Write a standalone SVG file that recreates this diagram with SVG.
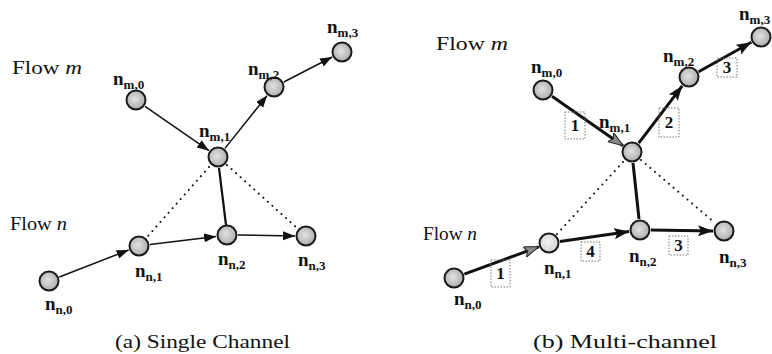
<svg xmlns="http://www.w3.org/2000/svg" width="772" height="354" viewBox="0 0 772 354">
<defs>
<radialGradient id="g" cx="0.45" cy="0.45" r="0.6">
<stop offset="0" stop-color="#e2e2e2"/>
<stop offset="1" stop-color="#a9a9a9"/>
</radialGradient>
<radialGradient id="gl" cx="0.45" cy="0.45" r="0.6">
<stop offset="0" stop-color="#f4f4f4"/>
<stop offset="1" stop-color="#cfcfcf"/>
</radialGradient>
<marker id="a" markerUnits="userSpaceOnUse" markerWidth="13" markerHeight="10" refX="12" refY="4.5" orient="auto">
<path d="M0,0 L12,4.5 L0,9 Z" fill="#111"/>
</marker>
<marker id="b" markerUnits="userSpaceOnUse" markerWidth="16" markerHeight="12" refX="15" refY="5.5" orient="auto">
<path d="M0,0 L15,5.5 L0,11 L3,5.5 Z" fill="#111"/>
</marker>
<marker id="bh" markerUnits="userSpaceOnUse" markerWidth="16" markerHeight="12" refX="15" refY="5.5" orient="auto">
<path d="M0,0 L15,5.5 L0,11 L3,5.5 Z" fill="#8a8a8a" stroke="#222" stroke-width="1"/>
</marker>
</defs>
<style>
.nd{fill:url(#g);stroke:#1a1a1a;stroke-width:2}
.ndl{fill:url(#gl);stroke:#1a1a1a;stroke-width:2}
.lb{font-family:"Liberation Serif",serif;font-weight:bold;font-size:19px;fill:#111}
.sb{font-size:13px}
.fl{font-family:"Liberation Serif",serif;font-size:18px;fill:#111}
.cap{font-family:"Liberation Serif",serif;font-size:18px;fill:#111}
.th{stroke:#111;stroke-width:1.5;fill:none}
.tk{stroke:#111;stroke-width:3;fill:none}
.sl{stroke:#111;stroke-width:2.2;fill:none}
.slk{stroke:#111;stroke-width:3;fill:none}
.dt{stroke:#111;stroke-width:2;fill:none;stroke-dasharray:0.1 6;stroke-linecap:round}
.bx{fill:none;stroke:#777;stroke-width:1;stroke-dasharray:1.5 1.5}
.num{font-family:"Liberation Serif",serif;font-weight:bold;font-size:17px;fill:#111;text-anchor:middle}
</style>

<!-- Panel (a) -->
<text class="fl" x="12" y="74" textLength="70" lengthAdjust="spacingAndGlyphs">Flow <tspan font-style="italic">m</tspan></text>
<text class="fl" x="10" y="230" textLength="57" lengthAdjust="spacingAndGlyphs">Flow <tspan font-style="italic">n</tspan></text>
<text class="cap" x="115" y="348" textLength="175" lengthAdjust="spacingAndGlyphs">(a)  Single  Channel</text>

<g id="conn-a">
<line class="th" x1="145" y1="106.3" x2="209" y2="150.7" marker-end="url(#a)"/>
<line class="th" x1="224.9" y1="148.4" x2="267.1" y2="95.6" marker-end="url(#a)"/>
<line class="th" x1="283.8" y1="82" x2="332.2" y2="57" marker-end="url(#a)"/>
<line class="th" x1="59.3" y1="277" x2="128.7" y2="250" marker-end="url(#a)"/>
<line class="th" x1="149.9" y1="244.6" x2="216.1" y2="236.4" marker-end="url(#a)"/>
<line class="th" x1="238" y1="235.1" x2="295" y2="235.9" marker-end="url(#a)"/>
<line class="sl" x1="219" y1="168" x2="226" y2="225"/>
<line class="dt" x1="209" y1="167" x2="148" y2="236"/>
<line class="dt" x1="227" y1="165" x2="297" y2="228"/>
</g>

<g id="a-m0"><circle class="nd" cx="136" cy="100" r="9.5"/><text class="lb" x="113" y="85">n<tspan class="sb" dy="4">m,0</tspan></text></g>
<g id="a-m1"><circle class="nd" cx="218" cy="157" r="9.5"/><text class="lb" x="199" y="137">n<tspan class="sb" dy="4">m,1</tspan></text></g>
<g id="a-m2"><circle class="nd" cx="274" cy="87" r="9.5"/><text class="lb" x="248" y="75">n<tspan class="sb" dy="4">m,2</tspan></text></g>
<g id="a-m3"><circle class="nd" cx="342" cy="52" r="9.5"/><text class="lb" x="327" y="33">n<tspan class="sb" dy="4">m,3</tspan></text></g>
<g id="a-n0"><circle class="nd" cx="49" cy="281" r="9.5"/><text class="lb" x="45" y="310">n<tspan class="sb" dy="4">n,0</tspan></text></g>
<g id="a-n1"><circle class="nd" cx="139" cy="246" r="9.5"/><text class="lb" x="135" y="277">n<tspan class="sb" dy="4">n,1</tspan></text></g>
<g id="a-n2"><circle class="nd" cx="227" cy="235" r="9.5"/><text class="lb" x="218" y="265">n<tspan class="sb" dy="4">n,2</tspan></text></g>
<g id="a-n3"><circle class="nd" cx="306" cy="236" r="9.5"/><text class="lb" x="298" y="266">n<tspan class="sb" dy="4">n,3</tspan></text></g>

<!-- Panel (b) -->
<text class="fl" x="436" y="50" textLength="72" lengthAdjust="spacingAndGlyphs">Flow <tspan font-style="italic">m</tspan></text>
<text class="fl" x="423" y="240" textLength="54" lengthAdjust="spacingAndGlyphs">Flow <tspan font-style="italic">n</tspan></text>
<text class="cap" x="533" y="348" textLength="184" lengthAdjust="spacingAndGlyphs">(b)  Multi-channel</text>

<g id="conn-b">
<line class="tk" x1="552" y1="96.3" x2="623" y2="145.7" marker-end="url(#bh)"/>
<line class="tk" x1="638.7" y1="143.2" x2="682.3" y2="85.8" marker-end="url(#b)"/>
<line class="tk" x1="698.6" y1="71.7" x2="751.4" y2="42.3" marker-end="url(#b)"/>
<line class="tk" x1="464.3" y1="274.2" x2="538.7" y2="246.8" marker-end="url(#bh)"/>
<line class="tk" x1="559.9" y1="241.4" x2="629.1" y2="231.6" marker-end="url(#b)"/>
<line class="tk" x1="651" y1="230.1" x2="713" y2="230.9" marker-end="url(#b)"/>
<line class="slk" x1="633" y1="163" x2="639" y2="219"/>
<line class="dt" x1="623" y1="162" x2="557" y2="234"/>
<line class="dt" x1="641" y1="160" x2="715" y2="223"/>
<rect class="bx" x="565" y="112" width="20" height="27"/><text class="num" x="575" y="131">1</text>
<rect class="bx" x="659" y="108" width="20" height="29"/><text class="num" x="669" y="128">2</text>
<rect class="bx" x="717" y="58" width="20" height="19"/><text class="num" x="727" y="73">3</text>
<rect class="bx" x="491" y="260" width="19" height="27"/><text class="num" x="500.5" y="279">1</text>
<rect class="bx" x="581" y="242" width="19" height="19"/><text class="num" x="590.5" y="257">4</text>
<rect class="bx" x="669" y="236" width="19" height="19"/><text class="num" x="678.5" y="251">3</text>
</g>

<g id="b-m0"><circle class="nd" cx="543" cy="90" r="9.5"/><text class="lb" x="531" y="73">n<tspan class="sb" dy="4">m,0</tspan></text></g>
<g id="b-m1"><circle class="nd" cx="632" cy="152" r="9.5"/><text class="lb" x="599" y="128">n<tspan class="sb" dy="4">m,1</tspan></text></g>
<g id="b-m2"><circle class="nd" cx="689" cy="77" r="9.5"/><text class="lb" x="663" y="62">n<tspan class="sb" dy="4">m,2</tspan></text></g>
<g id="b-m3"><circle class="nd" cx="761" cy="37" r="9.5"/><text class="lb" x="739" y="20">n<tspan class="sb" dy="4">m,3</tspan></text></g>
<g id="b-n0"><circle class="nd" cx="454" cy="278" r="9.5"/><text class="lb" x="454" y="305">n<tspan class="sb" dy="4">n,0</tspan></text></g>
<g id="b-n1"><circle class="ndl" cx="549" cy="243" r="9.5"/><text class="lb" x="544" y="274">n<tspan class="sb" dy="4">n,1</tspan></text></g>
<g id="b-n2"><circle class="nd" cx="640" cy="230" r="9.5"/><text class="lb" x="629" y="262">n<tspan class="sb" dy="4">n,2</tspan></text></g>
<g id="b-n3"><circle class="nd" cx="724" cy="231" r="9.5"/><text class="lb" x="719" y="263">n<tspan class="sb" dy="4">n,3</tspan></text></g>
</svg>
